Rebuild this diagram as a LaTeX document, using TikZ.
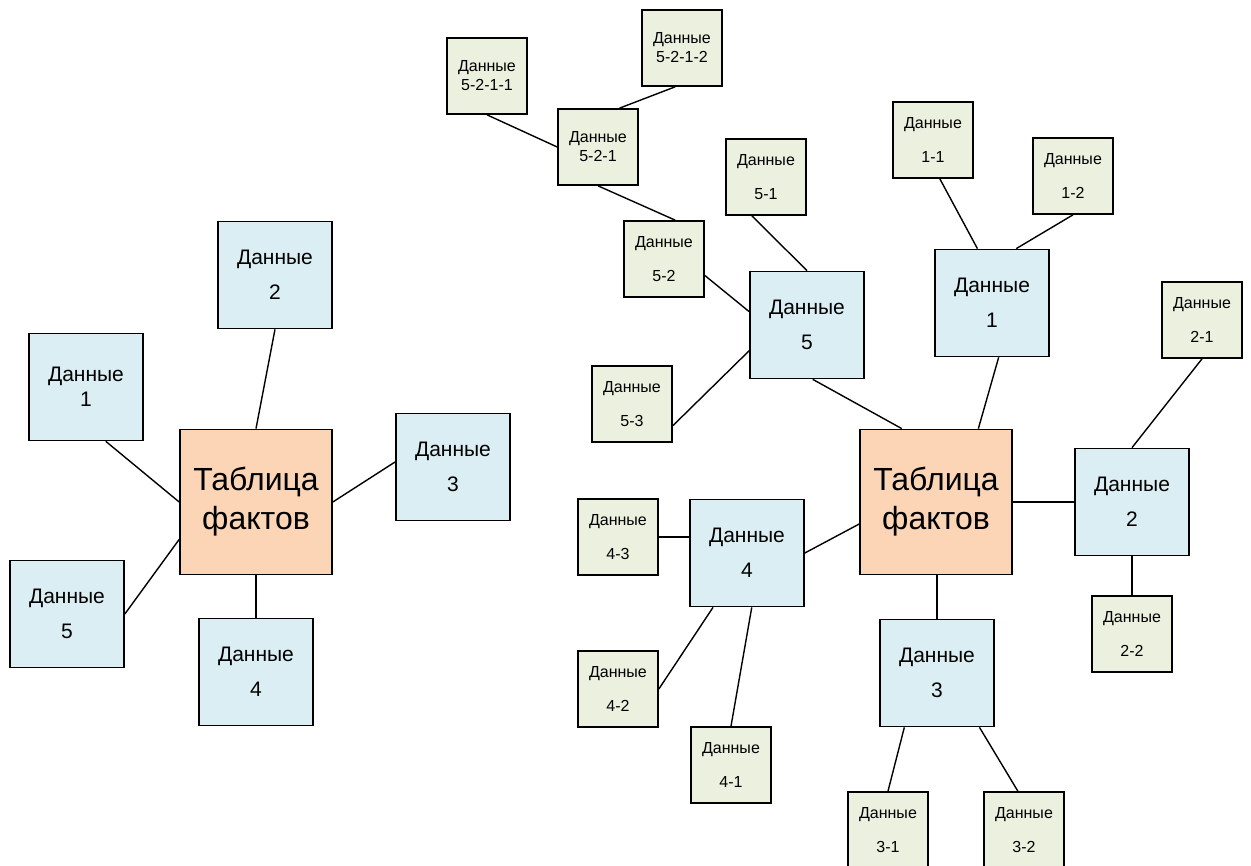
\documentclass[tikz,border=0pt]{standalone}
\usepackage{fontspec}
\setmainfont{Liberation Sans}
\usepackage{xcolor}
\usepackage{tikz}
\usetikzlibrary{calc}
\definecolor{factfill}{HTML}{FBD5B5}
\definecolor{dimfill}{HTML}{DAEEF3}
\definecolor{subfill}{HTML}{EBF1DE}

\begin{document}
\begin{tikzpicture}[x=1pt,y=1pt,
  fact/.style={draw=black, line width=1.7pt, fill=factfill, minimum width=152pt, minimum height=145pt, align=center, inner sep=0pt, font=\fontsize{32}{39}\selectfont},
  dim/.style={fact, fill=dimfill, minimum width=114pt, minimum height=107pt, font=\fontsize{21}{35}\selectfont},
  dimtight/.style={dim, font=\fontsize{21}{25}\selectfont},
  sub/.style={fact, fill=subfill, minimum width=80pt, minimum height=76pt, font=\fontsize{16}{34}\selectfont},
  subtight/.style={sub, font=\fontsize{16}{19}\selectfont},
  link/.style={black, line width=1.4pt}]
  \useasboundingbox (0,0) rectangle (1251,866);
  % star schema
  \node[fact] (FA) at (256,364) {Таблица\\фактов};
  \node[dimtight] (A1) at (86,479) {Данные\\1};
  \node[dim] (A2) at (275,591) {Данные\\2};
  \node[dim] (A3) at (453,399) {Данные\\3};
  \node[dim] (A4) at (256,194) {Данные\\4};
  \node[dim] (A5) at (67,252) {Данные\\5};
  \draw[link] (A1.-70) -- (FA.west);
  \draw[link] (A2.south) -- (FA.north);
  \draw[link] (A3.175) -- (FA.east);
  \draw[link] (A4.north) -- (FA.south);
  \draw[link] (A5.east) -- (FA.206);
  % snowflake schema
  \node[fact] (FB) at (936,364) {Таблица\\фактов};
  \node[dim] (B1) at (992,563) {Данные\\1};
  \node[dim] (B2) at (1132,364) {Данные\\2};
  \node[dim] (B3) at (937,193) {Данные\\3};
  \node[dim] (B4) at (747,313) {Данные\\4};
  \node[dim] (B5) at (807,541) {Данные\\5};
  \node[sub] (B11) at (933,726) {Данные\\1-1};
  \node[sub] (B12) at (1073,690) {Данные\\1-2};
  \node[sub] (B21) at (1202,546) {Данные\\2-1};
  \node[sub] (B22) at (1132,232) {Данные\\2-2};
  \node[sub] (B31) at (888,36) {Данные\\3-1};
  \node[sub] (B32) at (1024,36) {Данные\\3-2};
  \node[sub] (B41) at (731,101) {Данные\\4-1};
  \node[sub] (B42) at (618,177) {Данные\\4-2};
  \node[sub] (B43) at (618,329) {Данные\\4-3};
  \node[sub] (B51) at (766,689) {Данные\\5-1};
  \node[sub] (B52) at (664,607) {Данные\\5-2};
  \node[sub] (B53) at (632,462) {Данные\\5-3};
  \node[subtight] (B521) at (598,719) {Данные\\5-2-1};
  \node[subtight] (B5211) at (487,790) {Данные\\5-2-1-1};
  \node[subtight] (B5212) at (682,818) {Данные\\5-2-1-2};
  \draw[link] (B1.-83) -- (FB.60);
  \draw[link] (B2.west) -- (FB.east);
  \draw[link] (B3.north) -- (B3.north |- FB.south);
  \draw[link] (B4.east) -- (FB.196);
  \draw[link] (B5.-84) -- (FB.115);
  \draw[link] (B11.-80) -- (B1.105);
  \draw[link] (B12.south) -- (B1.66);
  \draw[link] (B21.south) -- (B2.north);
  \draw[link] (B22.north) -- (B2.south);
  \draw[link] (B31.north) -- (B3.-121);
  \draw[link] (B32.99) -- (B3.-52);
  \draw[link] (B41.north) -- (B4.-85);
  \draw[link] (B42.east) -- (B4.-122);
  \draw[link] (B43.east) -- (B43.east -| B4.west);
  \draw[link] (B51.-110) -- (B5.north);
  \draw[link] (B52.-22) -- (B5.167);
  \draw[link] (B53.-28) -- (B5.204);
  \draw[link] (B521.south) -- (B52.74);
  \draw[link] (B5211.south) -- (B521.west);
  \draw[link] (B5212.-100) -- (B521.61);
\end{tikzpicture}
\end{document}
